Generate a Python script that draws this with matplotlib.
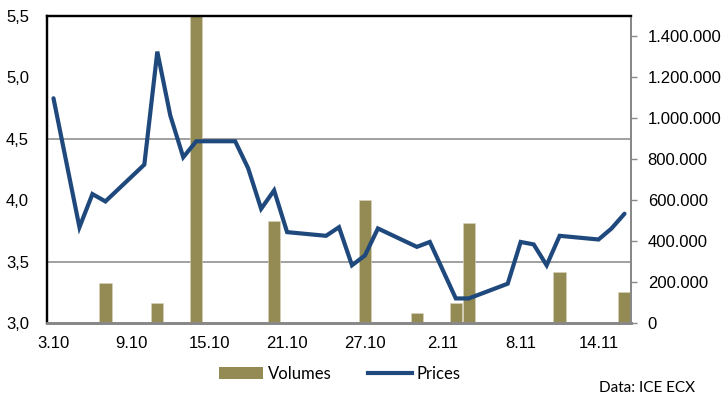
from datetime import datetime, timedelta

import matplotlib
matplotlib.use("Agg")
import matplotlib.pyplot as plt
from matplotlib.lines import Line2D
from matplotlib.patches import Patch
from matplotlib.ticker import FixedLocator, FuncFormatter, MultipleLocator
import matplotlib.dates as mdates

# price series (EUR/t), trading days only
price_days = ["2011-10-03", "2011-10-05", "2011-10-06", "2011-10-07", "2011-10-10",
              "2011-10-11", "2011-10-12", "2011-10-13", "2011-10-14", "2011-10-17",
              "2011-10-18", "2011-10-19", "2011-10-20", "2011-10-21", "2011-10-24",
              "2011-10-25", "2011-10-26", "2011-10-27", "2011-10-28", "2011-10-31",
              "2011-11-01", "2011-11-03", "2011-11-04", "2011-11-07", "2011-11-08",
              "2011-11-09", "2011-11-10", "2011-11-11", "2011-11-14", "2011-11-15",
              "2011-11-16"]
prices = [4.83, 3.78, 4.05, 3.99, 4.29,
          5.21, 4.69, 4.35, 4.48, 4.48,
          4.26, 3.93, 4.08, 3.74, 3.71,
          3.78, 3.47, 3.55, 3.77, 3.62,
          3.66, 3.20, 3.20, 3.32, 3.66,
          3.64, 3.47, 3.71, 3.68, 3.77,
          3.89]

volume_days = ["2011-10-07", "2011-10-11", "2011-10-14", "2011-10-20", "2011-10-27",
               "2011-10-31", "2011-11-03", "2011-11-04", "2011-11-11", "2011-11-16"]
volumes = [195000, 100000, 1550000, 500000, 600000,
           50000, 100000, 490000, 250000, 150000]

tick_days = ["2011-10-03", "2011-10-09", "2011-10-15", "2011-10-21",
             "2011-10-27", "2011-11-02", "2011-11-08", "2011-11-14"]

OLIVE = "#948A54"
BLUE = "#1F497D"

plt.rcParams["font.family"] = ["Liberation Sans", "DejaVu Sans"]

to_date = lambda s: datetime.fromisoformat(s)

fig = plt.figure(figsize=(7.25, 3.98), dpi=100)
ax = fig.add_axes([47 / 725, 1 - 323 / 398, 584 / 725, 307 / 398])
ax2 = ax.twinx()

# volumes on the right axis, drawn behind the price line
ax2.bar([to_date(d) for d in volume_days], volumes, width=0.95,
        color=OLIVE, edgecolor="#D8D4BC", linewidth=0.4, zorder=2)
ax2.set_ylim(0, 1500000)
ax2.yaxis.set_major_locator(FixedLocator(range(0, 1400001, 200000)))
ax2.yaxis.set_minor_locator(MultipleLocator(300000))
ax2.yaxis.set_major_formatter(FuncFormatter(lambda v, p: f"{int(v):,}".replace(",", ".")))
ax2.grid(which="minor", axis="y", color="#999999", linewidth=1.3, zorder=0)
ax2.set_axisbelow(True)
ax2.tick_params(axis="y", which="major", length=4, width=1, color="#888888",
                pad=8, labelsize=12)
ax2.tick_params(axis="y", which="minor", length=0)

# prices on the left axis
ax.set_zorder(ax2.get_zorder() + 1)
ax.patch.set_visible(False)
ax.plot([to_date(d) for d in price_days], prices, color=BLUE, linewidth=3,
        solid_joinstyle="miter", solid_capstyle="round")
ax.set_ylim(3.0, 5.5)
ax.yaxis.set_major_locator(MultipleLocator(0.5))
ax.yaxis.set_major_formatter(FuncFormatter(lambda v, p: f"{v:.1f}".replace(".", ",")))
ax.tick_params(axis="y", length=0, pad=13, labelsize=12)

first, last = to_date(price_days[0]), to_date(volume_days[-1])
ax.set_xlim(first - timedelta(hours=12), last + timedelta(hours=12))
ax.set_xticks([to_date(d) for d in tick_days])
ax.xaxis.set_major_formatter(FuncFormatter(
    lambda v, p: f"{mdates.num2date(v).day}.{mdates.num2date(v).month}"))
ax.tick_params(axis="x", length=0, pad=9, labelsize=12)

for a in (ax, ax2):
    a.spines["left"].set_color("black")
    a.spines["left"].set_linewidth(1.6)
    a.spines["top"].set_color("black")
    a.spines["top"].set_linewidth(1.6)
    a.spines["right"].set_color("#888888")
    a.spines["right"].set_linewidth(1.3)
    a.spines["bottom"].set_color("#888888")
    a.spines["bottom"].set_linewidth(2)

handles = [Patch(facecolor=OLIVE, edgecolor="none", label="Volumes"),
           Line2D([], [], color=BLUE, linewidth=3, label="Prices")]
fig.legend(handles=handles, loc="center", bbox_to_anchor=(340 / 725, 1 - 374 / 398),
           ncol=2, frameon=False, prop={"family": "Lato", "size": 12},
           handlelength=2.6, handletextpad=0.3, columnspacing=2.2)

fig.text(695 / 725, 1 - 388 / 398, "Data: ICE ECX", ha="right", va="center",
         family="Lato", fontsize=11)

fig.savefig("out.png", dpi=100)
